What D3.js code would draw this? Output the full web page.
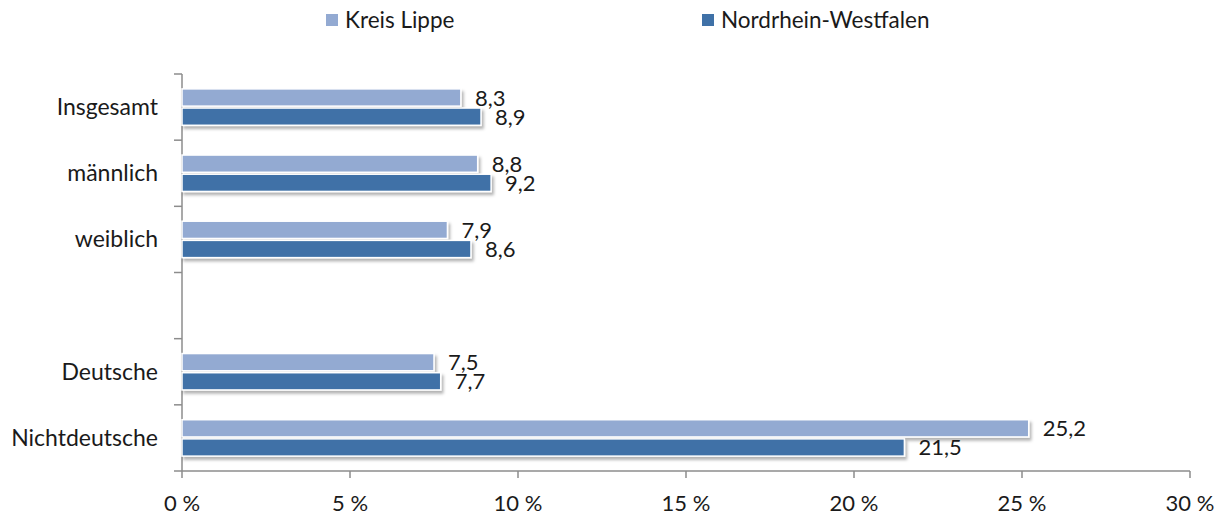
<!DOCTYPE html>
<html><head><meta charset="utf-8">
<script src="https://cdn.jsdelivr.net/npm/d3@7"></script>
<style>body{margin:0;background:#fff;} svg{display:block;font-family:Lato,"Open Sans",sans-serif;}</style>
</head><body>
<svg id="c" width="1225" height="518"></svg>
<script>
const categories = ["Insgesamt","männlich","weiblich","","Deutsche","Nichtdeutsche"];
const seriesNames = ["Kreis Lippe","Nordrhein-Westfalen"];
const lippe = [8.3, 8.8, 7.9, null, 7.5, 25.2];
const nrw   = [8.9, 9.2, 8.6, null, 7.7, 21.5];
const xTicks = [0,5,10,15,20,25,30];
const colors = ["#93AAD2","#3F71A7"];

(function(){
const svg = d3.select("#c");
const defs = svg.append("defs");
const f = defs.append("filter").attr("id","sh").attr("x","-5%").attr("y","-50%").attr("width","120%").attr("height","250%");
f.append("feDropShadow").attr("dx",2).attr("dy",3).attr("stdDeviation",1.8).attr("flood-color","#000").attr("flood-opacity",0.3);

const mL = 182, mR = 1190, mT = 74, mB = 471;
const textCol = "#1a1a1a";
const x = d3.scaleLinear().domain([0,30]).range([mL,mR]);
const y = d3.scaleBand().domain(categories.map((c,i)=>i)).range([mT,mB]).padding(0);
const bw = y.bandwidth();
const sub = d3.scaleBand().domain([0,1]).range([bw*0.225, bw*0.775]).paddingInner(0.1);

const axisColor = "#8c8c8c";
svg.append("line").attr("x1",mL).attr("x2",mL).attr("y1",mT).attr("y2",mB).attr("stroke",axisColor).attr("stroke-width",1.5);
svg.append("line").attr("x1",mL).attr("x2",mR).attr("y1",mB).attr("y2",mB).attr("stroke",axisColor).attr("stroke-width",1.5);
const yb = categories.map((c,i)=>y(i)).concat([mB]);
svg.selectAll(".yt").data(yb).enter().append("line")
  .attr("x1",mL-8).attr("x2",mL).attr("y1",d=>d).attr("y2",d=>d).attr("stroke",axisColor).attr("stroke-width",1.5);
svg.selectAll(".xt").data(xTicks).enter().append("line")
  .attr("x1",d=>x(d)).attr("x2",d=>x(d)).attr("y1",mB).attr("y2",mB+7).attr("stroke",axisColor).attr("stroke-width",1.5);
svg.selectAll(".xl").data(xTicks).enter().append("text")
  .attr("x",d=>x(d)).attr("y",mB+40).attr("text-anchor","middle").attr("font-size",22).attr("fill",textCol)
  .text(d=>d+" %");
svg.selectAll(".yl").data(categories).enter().append("text")
  .attr("x",mL-24).attr("y",(d,i)=>y(i)+bw/2+8).attr("text-anchor","end").attr("font-size",23).attr("fill",textCol)
  .text(d=>d);

const data = [lippe, nrw];
data.forEach((vals,s)=>{
  const g = svg.append("g");
  vals.forEach((v,i)=>{
    if(v==null) return;
    const yy = y(i)+sub(s);
    g.append("rect").attr("x",x(0)).attr("y",yy).attr("width",x(v)-x(0)).attr("height",sub.bandwidth())
      .attr("fill",colors[s]).attr("stroke","#fff").attr("stroke-width",1.5).attr("filter","url(#sh)");
  });
});
data.forEach((vals,s)=>{
  vals.forEach((v,i)=>{
    if(v==null) return;
    const yy = y(i)+sub(s)+sub.bandwidth()/2;
    svg.append("text").attr("x",x(v)+14).attr("y",yy+8).attr("font-size",22).attr("fill",textCol)
      .text(v.toFixed(1).replace(".",","));
  });
});

const lgX = [326,702];
seriesNames.forEach((n,i)=>{
  svg.append("rect").attr("x",lgX[i]).attr("y",14).attr("width",12).attr("height",12).attr("fill",colors[i]);
  svg.append("text").attr("x",lgX[i]+19).attr("y",28).attr("font-size",22.5).attr("fill",textCol).text(n);
});
})();
</script>
</body></html>
